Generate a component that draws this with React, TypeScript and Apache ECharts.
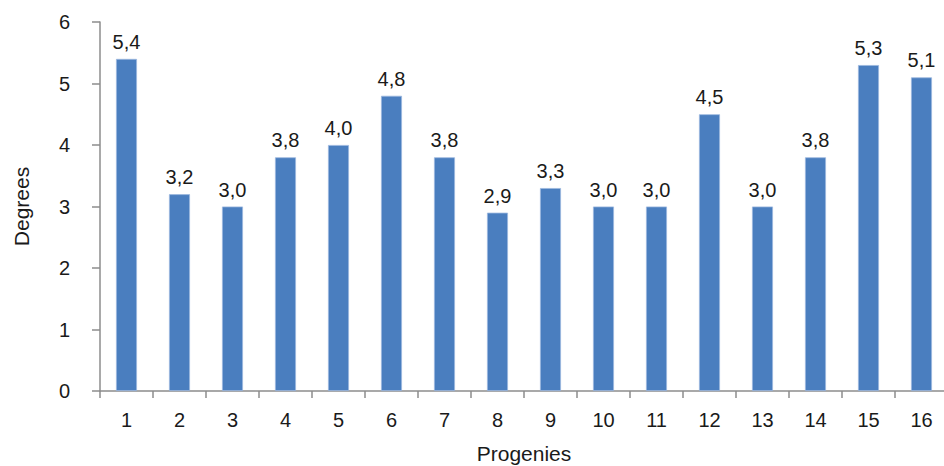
import React, { useEffect, useRef } from "react";
import * as echarts from "echarts";

const categories = ["1", "2", "3", "4", "5", "6", "7", "8", "9", "10", "11", "12", "13", "14", "15", "16"];
const degrees = [5.4, 3.2, 3.0, 3.8, 4.0, 4.8, 3.8, 2.9, 3.3, 3.0, 3.0, 4.5, 3.0, 3.8, 5.3, 5.1];
const yTicks = [0, 1, 2, 3, 4, 5, 6];

export default function App() {
  const ref = useRef<HTMLDivElement>(null);
  useEffect(() => {
    document.body.style.margin = "0";
    const chart = echarts.init(ref.current!, null, { renderer: "svg" });
    const font = "'Liberation Sans', Arial, sans-serif";
    const axisColor = "#8c8c8c";
    const textColor = "#1a1a1a";
    chart.setOption({
      animation: false,
      backgroundColor: "#ffffff",
      textStyle: { fontFamily: font },
      grid: {
        left: 100,
        right: -4,
        top: 22,
        bottom: 75,
        containLabel: false,
        outerBoundsMode: "none",
      },
      xAxis: {
        type: "category",
        data: categories,
        name: "Progenies",
        nameLocation: "middle",
        nameGap: 52,
        nameTextStyle: { fontSize: 21, color: textColor, fontFamily: font },
        axisLine: { show: true, lineStyle: { color: axisColor, width: 1.5 } },
        axisTick: { show: true, length: 7, lineStyle: { color: axisColor, width: 1.5 } },
        axisLabel: { fontSize: 20, color: textColor, margin: 19, fontFamily: font },
      },
      yAxis: {
        type: "value",
        min: yTicks[0],
        max: yTicks[yTicks.length - 1],
        interval: 1,
        name: "Degrees",
        nameLocation: "middle",
        nameGap: 68,
        nameRotate: 90,
        nameTextStyle: { fontSize: 21, color: textColor, fontFamily: font },
        axisLine: { show: true, lineStyle: { color: axisColor, width: 1.5 } },
        axisTick: { show: true, length: 8, lineStyle: { color: axisColor, width: 1.5 } },
        axisLabel: { fontSize: 20, color: textColor, margin: 30, fontFamily: font },
        splitLine: { show: false },
      },
      series: [
        {
          type: "bar",
          data: degrees,
          barWidth: 21,
          itemStyle: { color: "#4a7ebf", borderColor: "#9cb8de", borderWidth: 0.8 },
          label: {
            show: true,
            position: "top",
            distance: 7,
            fontSize: 20,
            color: textColor,
            fontFamily: font,
            formatter: (p: any) => Number(p.value).toFixed(1).replace(".", ","),
          },
        },
      ],
    });
    return () => chart.dispose();
  }, []);
  return <div ref={ref} style={{ width: 944, height: 466 }} />;
}
